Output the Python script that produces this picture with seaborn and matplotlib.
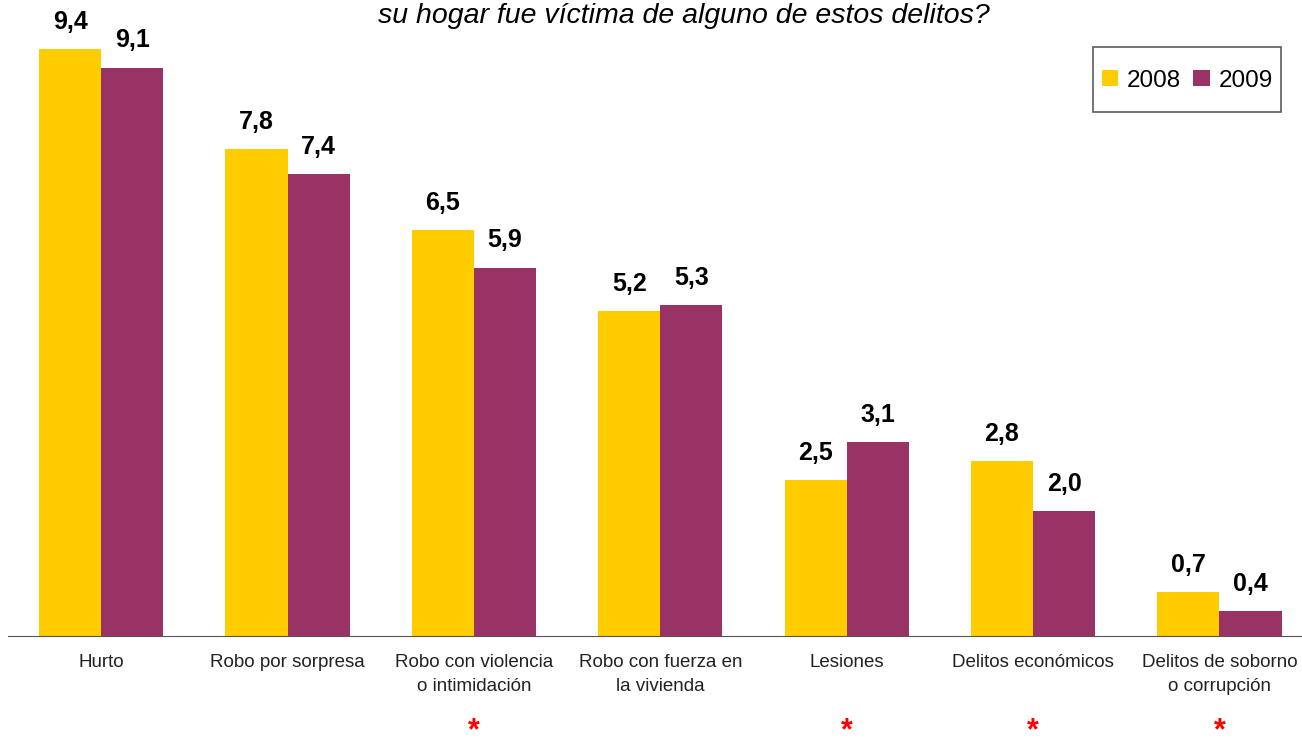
import seaborn as sns
import matplotlib.pyplot as plt
import pandas as pd
from matplotlib.patches import Patch, Rectangle
from matplotlib.legend_handler import HandlerPatch

# data
categories = ["Hurto", "Robo por sorpresa", "Robo con violencia\no intimidación",
              "Robo con fuerza en\nla vivienda", "Lesiones", "Delitos económicos",
              "Delitos de soborno\no corrupción"]
v2008 = [9.4, 7.8, 6.5, 5.2, 2.5, 2.8, 0.7]
v2009 = [9.1, 7.4, 5.9, 5.3, 3.1, 2.0, 0.4]
years = ["2008", "2009"]
flagged = [2, 4, 5, 6]  # categories marked with a red asterisk

colors = ["#FFCC00", "#993366"]

df = pd.DataFrame({
    "cat": categories * 2,
    "val": v2008 + v2009,
    "year": [years[0]] * len(categories) + [years[1]] * len(categories),
})

sns.set_style("white")
plt.rcParams["font.family"] = ["Liberation Sans", "DejaVu Sans"]

fig = plt.figure(figsize=(13.02, 7.44), dpi=100)
ax = fig.add_axes([8 / 1302, 108 / 744, 1304.6 / 1302, 624.5 / 744])

sns.barplot(data=df, x="cat", y="val", hue="year", palette=colors,
            width=0.667, saturation=1, linewidth=0, ax=ax, legend=False)

ax.set_xlim(-0.5, 6.5)
ax.set_ylim(0, 10)
ax.set_xlabel("")
ax.set_ylabel("")
ax.set_yticks([])
for s in ["top", "right", "left"]:
    ax.spines[s].set_visible(False)
ax.spines["bottom"].set_color("#555555")

# value labels above each bar
for cont in ax.containers:
    ax.bar_label(cont, labels=[f"{b.get_height():.1f}".replace(".", ",") for b in cont],
                 padding=11, fontsize=18, fontweight="bold", color="black", clip_on=False)

# category labels centred, tick marks on the boundaries
ax.set_xticks(range(len(categories)))
ax.set_xticklabels(categories, fontsize=13.5, color="#222222", linespacing=1.5)
ax.tick_params(axis="x", which="major", length=0, pad=13)
ax.set_xticks([i - 0.5 for i in range(len(categories) + 1)], minor=True)
ax.tick_params(axis="x", which="minor", length=5, color="#555555", direction="out")

# red asterisks
for i in flagged:
    ax.text(i, -0.153, "*", transform=ax.get_xaxis_transform(), ha="center",
            va="center", color="red", fontsize=22, fontweight="bold")

# title line (top of a longer question, cut off)
fig.text(0.525, 1 - 23 / 744, "su hogar fue víctima de alguno de estos delitos?",
         ha="center", va="baseline", fontsize=20.5, style="italic", color="black")


def square(legend, orig_handle, xdescent, ydescent, width, height, fontsize):
    side = 0.68 * fontsize
    return Rectangle((-xdescent + (width - side) / 2, 0.36 * fontsize - side / 2), side, side)


handles = [Patch(facecolor=c, edgecolor="none") for c in colors]
leg = fig.legend(handles, years, loc="upper right", bbox_to_anchor=(1281 / 1302, 1 - 47 / 744),
                 ncol=2, fontsize=17.5, frameon=True, fancybox=False, edgecolor="#333333",
                 handlelength=0.7, handleheight=2.75, handletextpad=0.35, columnspacing=0.5,
                 borderpad=0.33, borderaxespad=0,
                 handler_map={Patch: HandlerPatch(patch_func=square)})
leg.get_frame().set_linewidth(1.2)
for t in leg.get_texts():
    t.set_color("black")

plt.savefig("out.png", dpi=100)
